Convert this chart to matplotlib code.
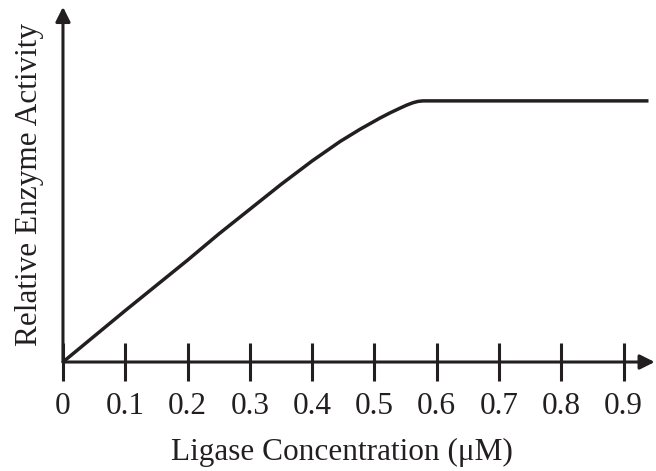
import matplotlib
matplotlib.use("Agg")
import matplotlib.pyplot as plt

plt.rcParams['font.family'] = ['Liberation Serif', 'DejaVu Serif']

# Curve (activity relative to the plateau)
concentration = [0, 0.1, 0.2, 0.25, 0.30, 0.35, 0.40, 0.4446, 0.4767, 0.5088,
                 0.525, 0.541, 0.552, 0.562, 0.570, 0.578, 0.94]
activity = [0, 0.197, 0.39, 0.49, 0.585, 0.68, 0.77, 0.844, 0.891, 0.934,
            0.954, 0.972, 0.984, 0.993, 0.998, 1.0, 1.0]

tick_values = [0, 0.1, 0.2, 0.3, 0.4, 0.5, 0.6, 0.7, 0.8, 0.9]
tick_labels = ['0', '0.1', '0.2', '0.3', '0.4', '0.5', '0.6', '0.7', '0.8', '0.9']

fig = plt.figure(figsize=(6.56, 4.71), dpi=100)
ax = fig.add_axes([0.096, 0.2314, 0.902, 0.754])

x_max = 0.95
y_max = 1.36
ax.set_xlim(0, x_max)
ax.set_ylim(0, y_max)

ax.plot(concentration, activity, color='#231f20', lw=2.5, solid_capstyle='butt',
        solid_joinstyle='round', clip_on=False)

# axes drawn as arrows
arrow_kw = dict(arrowstyle='-|>', color='#231f20', lw=2.2, mutation_scale=22,
                shrinkA=0, shrinkB=0)
ax.annotate('', xy=(x_max, 0), xytext=(0, 0), arrowprops=arrow_kw, annotation_clip=False)
ax.annotate('', xy=(0, y_max), xytext=(0, 0), arrowprops=arrow_kw, annotation_clip=False)

for s in ax.spines.values():
    s.set_visible(False)

ax.set_xticks(tick_values)
ax.set_xticklabels(tick_labels)
ax.set_yticks([])
ax.tick_params(axis='x', direction='inout', length=27, width=2.2, color='#231f20',
               labelsize=22.5, pad=8, labelcolor='#231f20')

# x label is centred under the labelled range (0 to 0.9), not the whole axis
fig.text(342 / 656, 1 - 452 / 471, 'Ligase Concentration (μM)', fontsize=22.5,
         color='#231f20', ha='center', va='center')
ax.set_ylabel('Relative Enzyme Activity', fontsize=22.5, color='#231f20', labelpad=14)

fig.savefig('out.png', dpi=100)
